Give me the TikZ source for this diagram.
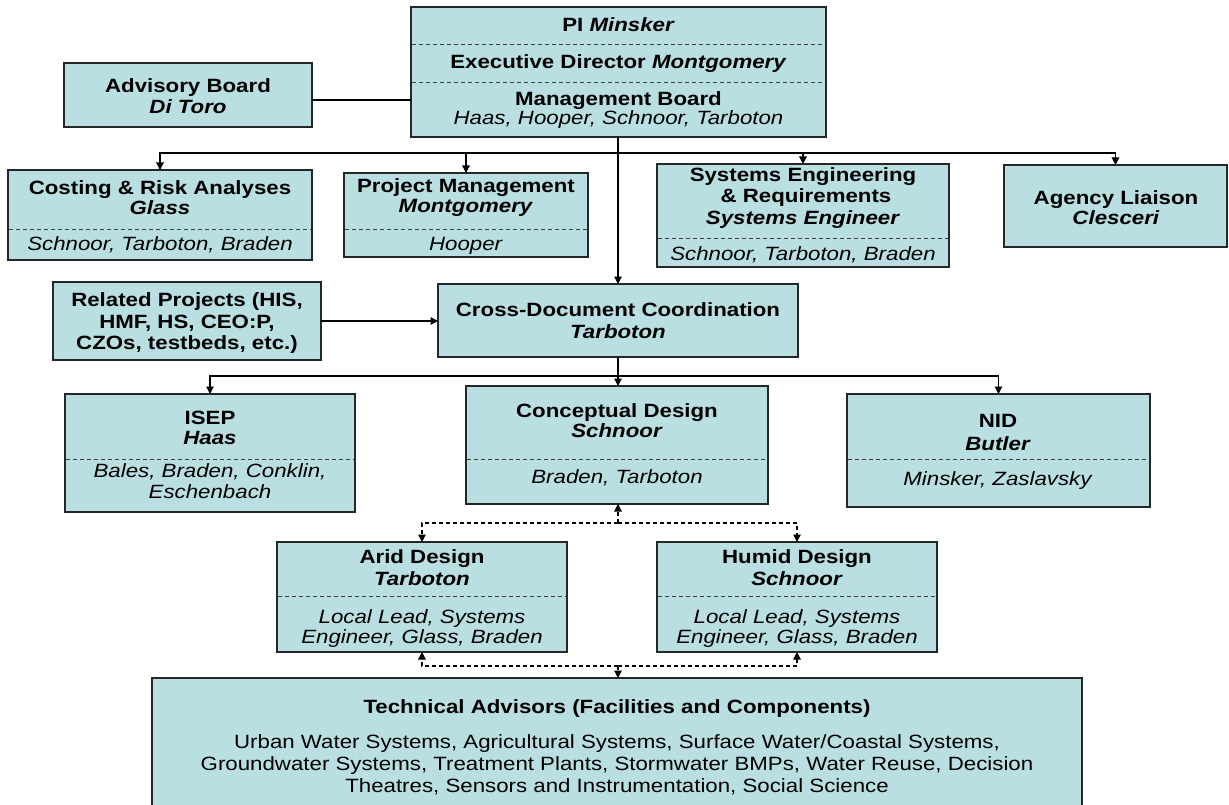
\documentclass[tikz,border=0pt]{standalone}
\usepackage{fontspec}
\setmainfont{Liberation Sans}[FakeStretch=1.16]
\usetikzlibrary{arrows.meta}
\definecolor{boxfill}{RGB}{185,223,226}
\newcommand\orgbox[5]{\node[box, minimum width={(#4-#2)*1pt}, minimum height={(#5-#3)*1pt}] (#1) at ({(#2+#4)/2},{(#3+#5)/2}) {};}
\newcommand\sepline[3]{\draw[sep] (#1+1,#3) -- (#2-1,#3);}
\newcommand\txt[4]{\node[lbl] (#1) at (#2,#3) {#4};}
\begin{document}
\begin{tikzpicture}[x=1pt,y=-1pt,
  box/.style={draw=black!85, fill=boxfill, line width=1.4pt, inner sep=0pt, outer sep=0pt, rectangle},
  sep/.style={draw=black!75, line width=0.9pt, dash pattern=on 4pt off 3pt},
  lbl/.style={anchor=base, inner sep=0pt, font=\fontsize{19.2}{21}\selectfont},
  link/.style={draw=black, line width=1.2pt},
  arr/.style={link, -{Triangle[width=7.5pt,length=7.5pt]}},
  trunk/.style={line width=2.2pt},
  darr/.style={arr, dash pattern=on 4pt off 3pt},
]
\useasboundingbox (0,0) rectangle (1229,805);

% boxes
\orgbox{top}{411}{7}{826}{137}
\orgbox{adv}{64}{63}{312}{127}
\orgbox{cost}{8}{170}{312}{260}
\orgbox{pm}{344}{173}{588}{257}
\orgbox{se}{657}{164}{949}{267}
\orgbox{ag}{1004}{165}{1227}{247}
\orgbox{rel}{53}{282}{321}{360}
\orgbox{cd}{438}{284}{798}{357}
\orgbox{isep}{65}{394}{355}{512}
\orgbox{cpt}{466}{386}{768}{504}
\orgbox{nid}{847}{394}{1150}{507}
\orgbox{arid}{277}{542}{567}{652}
\orgbox{humid}{657}{542}{937}{652}
\orgbox{tech}{152}{678}{1082}{815}

% separators
\sepline{411}{826}{44}
\sepline{411}{826}{82}
\sepline{8}{312}{229}
\sepline{344}{588}{229}
\sepline{657}{949}{238}
\sepline{65}{355}{459}
\sepline{466}{768}{459}
\sepline{847}{1150}{459}
\sepline{277}{567}{596}
\sepline{657}{937}{596}

% texts
\txt{t1}{618.5}{32}{\textbf{PI \textit{Minsker}}}
\txt{t2}{618.5}{69}{\textbf{Executive Director \textit{Montgomery}}}
\txt{t3}{618.5}{106}{\textbf{Management Board}}
\txt{t4}{618.5}{125}{\textit{Haas, Hooper, Schnoor, Tarboton}}

\txt{a1}{188}{93}{\textbf{Advisory Board}}
\txt{a2}{188}{113.5}{\textbf{\textit{Di Toro}}}

\txt{c1}{160}{195}{\textbf{Costing \& Risk Analyses}}
\txt{c2}{160}{215}{\textbf{\textit{Glass}}}
\txt{c3}{160}{251}{\textit{Schnoor, Tarboton, Braden}}

\txt{p1}{466}{193}{\textbf{Project Management}}
\txt{p2}{466}{213}{\textbf{\textit{Montgomery}}}
\txt{p3}{466}{251}{\textit{Hooper}}

\txt{s1}{803}{182}{\textbf{Systems Engineering}}
\txt{s2}{806}{203}{\textbf{\& Requirements}}
\txt{s3}{803}{225}{\textbf{\textit{Systems Engineer}}}
\txt{s4}{803}{260}{\textit{Schnoor, Tarboton, Braden}}

\txt{g1}{1116}{205}{\textbf{Agency Liaison}}
\txt{g2}{1116}{225}{\textbf{\textit{Clesceri}}}

\txt{r1}{187}{306}{\textbf{Related Projects (HIS,}}
\txt{r2}{187}{328}{\textbf{HMF, HS, CEO:P,}}
\txt{r3}{187}{349}{\textbf{CZOs, testbeds, etc.)}}

\txt{d1}{618}{316}{\textbf{Cross-Document Coordination}}
\txt{d2}{618}{338}{\textbf{\textit{Tarboton}}}

\txt{i1}{210}{424}{\textbf{ISEP}}
\txt{i2}{210}{444}{\textbf{\textit{Haas}}}
\txt{i3}{210}{477}{\textit{Bales, Braden, Conklin,}}
\txt{i4}{210}{498}{\textit{Eschenbach}}

\txt{k1}{617}{417}{\textbf{Conceptual Design}}
\txt{k2}{617}{437}{\textbf{\textit{Schnoor}}}
\txt{k3}{617}{483}{\textit{Braden, Tarboton}}

\txt{n1}{998}{427}{\textbf{NID}}
\txt{n2}{998}{450}{\textbf{\textit{Butler}}}
\txt{n3}{998}{485}{\textit{Minsker, Zaslavsky}}

\txt{ar1}{422}{563}{\textbf{Arid Design}}
\txt{ar2}{422}{585}{\textbf{\textit{Tarboton}}}
\txt{ar3}{422}{623}{\textit{Local Lead, Systems}}
\txt{ar4}{422}{643}{\textit{Engineer, Glass, Braden}}

\txt{h1}{797}{563}{\textbf{Humid Design}}
\txt{h2}{797}{585}{\textbf{\textit{Schnoor}}}
\txt{h3}{797}{623}{\textit{Local Lead, Systems}}
\txt{h4}{797}{643}{\textit{Engineer, Glass, Braden}}

\txt{x1}{617}{713}{\textbf{Technical Advisors (Facilities and Components)}}
\txt{x2}{617}{748}{Urban Water Systems, Agricultural Systems, Surface Water/Coastal Systems,}
\txt{x3}{617}{770}{Groundwater Systems, Treatment Plants, Stormwater BMPs, Water Reuse, Decision}
\txt{x4}{617}{792}{Theatres, Sensors and Instrumentation, Social Science}

% connectors
\coordinate (j1) at (618,153);
\coordinate (j2) at (618,376);
\coordinate (j3) at (618,523);
\coordinate (j4) at (618,666);

\draw[link] ([yshift=-5pt]adv.east) -- ([yshift=-5pt]adv.east -| top.west);
\draw[link,trunk] (top.south -| j1) -- (j1);
\draw[arr] (j1) -| (cost.north);
\draw[arr] (j1) -| (pm.north);
\draw[arr] (j1) -| (se.north);
\draw[arr] (j1) -| (ag.north);
\draw[arr] (j1) -- (cd.north -| j1);

\draw[arr] (rel.east) -- (rel.east -| cd.west);

\draw[link,trunk] (cd.south -| j2) -- (j2);
\draw[arr] (j2) -| (isep.north);
\draw[arr] (j2) -| (nid.north);
\draw[arr] (j2) -- (cpt.north -| j2);

\draw[darr] (j3) -- (cpt.south -| j3);
\draw[darr] (j3) -| (arid.north);
\draw[darr] (j3) -| (humid.north);

\draw[darr] (j4) -| (arid.south);
\draw[darr] (j4) -| (humid.south);
\draw[darr] (j4) -- (tech.north -| j4);
\end{tikzpicture}
\end{document}
